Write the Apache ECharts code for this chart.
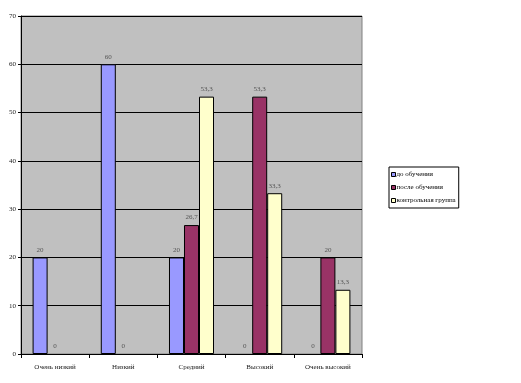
<!DOCTYPE html>
<html><head><meta charset="utf-8">
<script src="https://cdn.jsdelivr.net/npm/echarts@6/dist/echarts.min.js"></script>
<style>html,body{margin:0;padding:0;background:#fff}#c{width:521px;height:383px}</style>
</head><body><div id="c"></div>
<script>
const categories = ['Очень низкий', 'Низкий', 'Средний', 'Высокий', 'Очень высокий'];
const seriesNames = ['до обучения', 'после обучения', 'контрольная группа'];
const before = [20, 60, 20, 0, 0];
const after = [0, 0, 26.7, 53.3, 20];
const control = [null, null, 53.3, 33.3, 13.3];
const yTicks = [0, 10, 20, 30, 40, 50, 60, 70];
const colors = ['#9999ff', '#993366', '#ffffcc'];
const font = 'Liberation Serif';

const chart = echarts.init(document.getElementById('c'), null, {renderer: 'canvas'});
const mk = (name, data, color) => ({
  name, type: 'bar',
  data: data.map(v => v === 0 ? {value: 0, itemStyle: {borderWidth: 0, color: 'transparent'}} : v),
  barGap: '0%', barCategoryGap: '34%',
  itemStyle: {color, borderColor: '#000', borderWidth: 1},
  label: {show: true, position: 'top', distance: 4, fontFamily: font, fontSize: 7, color: '#555',
    formatter: p => p.value == null ? '' : String(p.value).replace('.', ',')},
  emphasis: {disabled: true}
});
chart.setOption({
  animation: false,
  backgroundColor: '#fff',
  grid: {left: 21, right: 159, top: 16, bottom: 29, show: true, backgroundColor: '#c0c0c0', borderColor: '#808080', borderWidth: 1},
  legend: {
    orient: 'vertical', left: 389, top: 167, itemWidth: 4, itemHeight: 4, itemGap: 6, icon: 'rect',
    padding: [4, 3, 4, 2], borderColor: '#000', borderWidth: 1, backgroundColor: '#fff',
    textStyle: {fontFamily: font, fontSize: 7, color: '#000', padding: [0, 0, 0, -4]},
    data: seriesNames.map((n, i) => ({name: n, itemStyle: {color: colors[i], borderColor: '#000', borderWidth: 1}})),
    selectedMode: false
  },
  xAxis: {
    type: 'category', data: categories, boundaryGap: true,
    axisLine: {lineStyle: {color: '#000', width: 1}},
    axisTick: {show: true, length: 4, lineStyle: {color: '#000'}},
    axisLabel: {fontFamily: font, fontSize: 7, color: '#222', margin: 10, interval: 0}
  },
  yAxis: {
    type: 'value', min: yTicks[0], max: yTicks[yTicks.length - 1], interval: 10,
    axisLine: {show: true, lineStyle: {color: '#000', width: 1}},
    axisTick: {show: true, length: 3, lineStyle: {color: '#000'}},
    splitLine: {show: true, lineStyle: {color: '#000', width: 1}},
    axisLabel: {fontFamily: font, fontSize: 7, color: '#222', margin: 5}
  },
  series: [mk(seriesNames[0], before, colors[0]), mk(seriesNames[1], after, colors[1]), mk(seriesNames[2], control, colors[2])]
});
</script></body></html>
